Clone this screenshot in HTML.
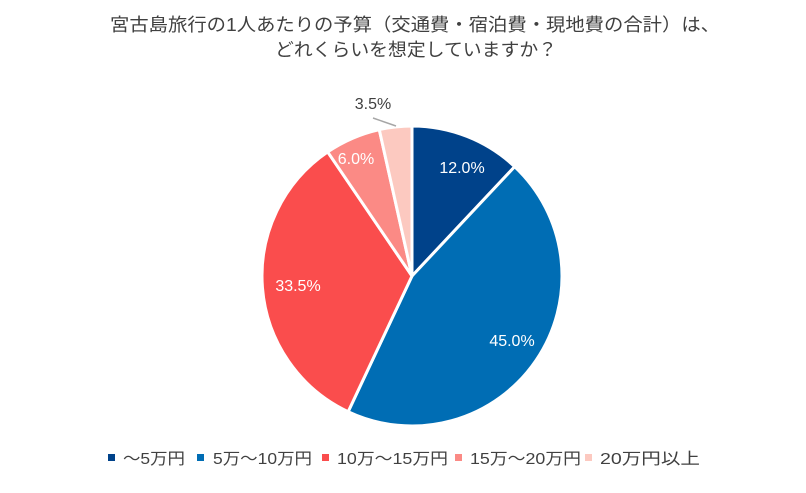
<!DOCTYPE html>
<html><head><meta charset="utf-8"><style>
body{margin:0;background:#fff;width:806px;height:488px;overflow:hidden;font-family:"Liberation Sans","Noto Sans CJK JP",sans-serif}
</style></head><body>
<svg id="s" width="806" height="488" xmlns="http://www.w3.org/2000/svg" font-family="Liberation Sans, Noto Sans CJK JP, sans-serif">
<text x="110" y="31" font-size="18" textLength="610" lengthAdjust="spacingAndGlyphs" fill="#404040">宮古島旅行の1人あたりの予算（交通費・宿泊費・現地費の合計）は、</text>
<text x="275" y="56" font-size="18" textLength="282" lengthAdjust="spacingAndGlyphs" fill="#404040">どれくらいを想定していますか？</text>
<g id="pie"></g>
<line x1="373" y1="118" x2="396" y2="126" stroke="#a6a6a6" stroke-width="1.5"/>
<g font-size="16" text-anchor="middle">
<text x="462" y="173" fill="#fff">12.0%</text>
<text x="512" y="346" fill="#fff">45.0%</text>
<text x="298" y="291" fill="#fff">33.5%</text>
<text x="356" y="164" fill="#fff">6.0%</text>
<text x="373" y="109" fill="#404040">3.5%</text>
</g>
<g font-size="16" fill="#404040" lengthAdjust="spacingAndGlyphs">
<rect x="108" y="454" width="7" height="7" fill="#00428a"/><text x="123" y="464" textLength="62" lengthAdjust="spacingAndGlyphs">～5万円</text>
<rect x="197" y="454" width="7" height="7" fill="#006db4"/><text x="213" y="464" textLength="99" lengthAdjust="spacingAndGlyphs">5万～10万円</text>
<rect x="322" y="454" width="7" height="7" fill="#fa4d4d"/><text x="337" y="464" textLength="111" lengthAdjust="spacingAndGlyphs">10万～15万円</text>
<rect x="455" y="454" width="7" height="7" fill="#fb8a85"/><text x="470" y="464" textLength="111" lengthAdjust="spacingAndGlyphs">15万～20万円</text>
<rect x="585" y="454" width="7" height="7" fill="#fcc9c0"/><text x="600" y="464" textLength="100" lengthAdjust="spacingAndGlyphs">20万円以上</text>
</g>
</svg>
<script>
var cx=412,cy=276,r=150,d=[12,45,33.5,6,3.5],c=["#00428a","#006db4","#fa4d4d","#fb8a85","#fcc9c0"],a=0,h="";
d.forEach(function(v,i){var a2=a+v/100*2*Math.PI;
var x1=cx+r*Math.sin(a),y1=cy-r*Math.cos(a),x2=cx+r*Math.sin(a2),y2=cy-r*Math.cos(a2);
h+='<path d="M'+cx+','+cy+'L'+x1+','+y1+'A'+r+','+r+' 0 '+(v>50?1:0)+' 1 '+x2+','+y2+'Z" fill="'+c[i]+'" stroke="#fff" stroke-width="3" stroke-linejoin="round"/>';a=a2;});
document.getElementById("pie").innerHTML=h;
</script>
</body></html>
